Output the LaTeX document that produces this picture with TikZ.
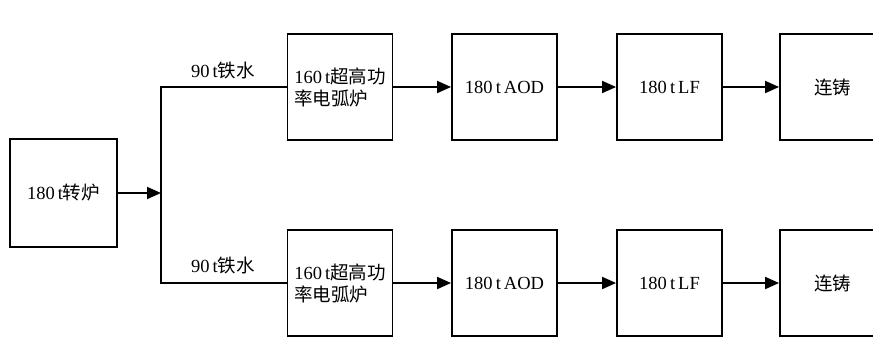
\documentclass[tikz,border=0pt]{standalone}
\usepackage{fontspec}
\setmainfont{Liberation Serif}
\newfontfamily\cjk{Noto Sans CJK SC}
\usetikzlibrary{arrows.meta}
\tikzset{
  stepbox/.style={draw, line width=1.8pt, minimum width=105pt, minimum height=106pt, inner sep=0pt, font=\fontsize{18.5}{22}\selectfont},
  flow/.style={line width=1.8pt, -{Triangle[length=14pt,width=12pt]}},
  plain/.style={line width=1.8pt},
  lbl/.style={font=\fontsize{18.5}{22}\selectfont, inner sep=0pt}
}
\begin{document}
\begin{tikzpicture}[x=1pt,y=-1pt]
\useasboundingbox (0,0) rectangle (873,339);
\clip (0,0) rectangle (873,339);
% converter
\node[stepbox, minimum width=107pt, minimum height=108pt] (conv) at (63.5,193) {180\,t{\cjk 转炉}};
\coordinate (split) at (161,193);
% top row
\node[stepbox, align=left] (eaf1) at (340,87) {160\,t{\cjk 超高功}\\[0pt]{\cjk 率电弧炉}};
\node[stepbox] (aod1) at (504.5,87) {180\,t\,AOD};
\node[stepbox] (lf1) at (669.5,87) {180\,t\,LF};
\node[stepbox] (cc1) at (832.5,87) {\cjk 连铸};
% bottom row
\node[stepbox, align=left] (eaf2) at (340,283) {160\,t{\cjk 超高功}\\[0pt]{\cjk 率电弧炉}};
\node[stepbox] (aod2) at (504.5,283) {180\,t\,AOD};
\node[stepbox] (lf2) at (669.5,283) {180\,t\,LF};
\node[stepbox] (cc2) at (832.5,283) {\cjk 连铸};
% connectors
\draw[flow] (conv.east) -- (split);
\draw[plain] (eaf1.west) -| (split) |- (eaf2.west);
\node[lbl] (l1) at (223,70) {90\,t{\cjk 铁水}};
\node[lbl] (l2) at (223,265) {90\,t{\cjk 铁水}};
\draw[flow] (eaf1.east) -- (aod1.west);
\draw[flow] (aod1.east) -- (lf1.west);
\draw[flow] (lf1.east) -- (cc1.west);
\draw[flow] (eaf2.east) -- (aod2.west);
\draw[flow] (aod2.east) -- (lf2.west);
\draw[flow] (lf2.east) -- (cc2.west);
\end{tikzpicture}
\end{document}
